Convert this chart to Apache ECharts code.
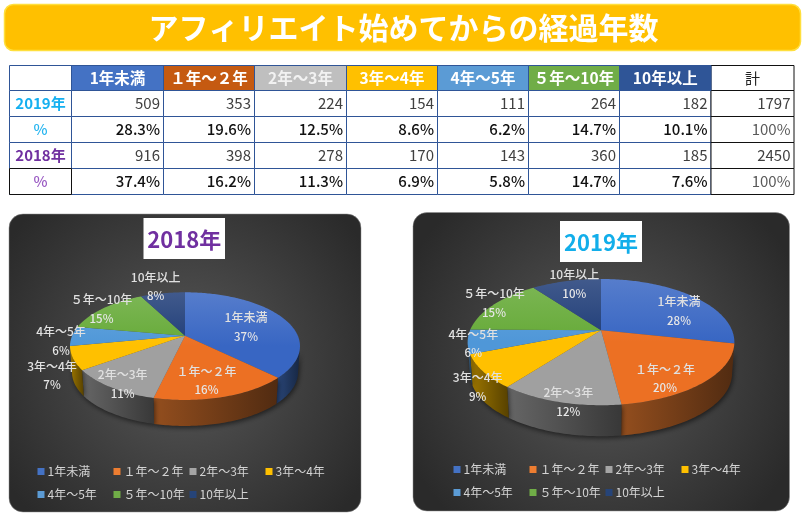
<!DOCTYPE html>
<html><head><meta charset="utf-8">
<style>html,body{margin:0;padding:0;background:#fff}#c{width:807px;height:522px}</style>
<script src="https://cdn.jsdelivr.net/npm/echarts@6/dist/echarts.min.js"></script>
</head><body><div id="c"></div>
<script>
const titleText = 'アフィリエイト始めてからの経過年数';
const categories = ['1年未満','１年～２年','2年～3年','3年～4年','4年～5年','５年～10年','10年以上'];
const tableHeaders = ['1年未満','１年～２年','2年～3年','3年～4年','4年～5年','５年～10年','10年以上'];
const values2019 = [509,353,224,154,111,264,182];
const values2018 = [916,398,278,170,143,360,185];
const total2019 = 1797;
const total2018 = 2450;
const pct2019 = ['28.3%','19.6%','12.5%','8.6%','6.2%','14.7%','10.1%'];
const pct2018 = ['37.4%','16.2%','11.3%','6.9%','5.8%','14.7%','7.6%'];
const totalHeader = '計';
const totalPct = '100%';

const FONT = '"Noto Sans CJK JP","Noto Sans",sans-serif';
const colors = ['#4472c4','#ed7d31','#a5a5a5','#ffc000','#5b9bd5','#70ad47','#264478'];
const sliceFills = ['#3866c3','#ec7023','#a0a0a0','#ffc000','#4f97d8','#66aa38','#1f3d78'];
const headFills = ['#4472c4','#c55a11','#bfbfbf','#ffc000','#5b9bd5','#70ad47','#2f5597'];

function mix(hex, target, t){
  const n=parseInt(hex.slice(1),16), a=[n>>16,(n>>8)&255,n&255];
  return 'rgb('+a.map(c=>Math.round(c+(target-c)*t)).join(',')+')';
}

/* pie layout: apex, projected radius, squash, perspective, wall height */
const pies = [
  {year:'2018', values:values2018, cx:185, cy:335.7, R:112.8, k:51.8, p:0.194, depth:26,
   labels:[[246,327],[206.5,380.5],[122.7,384],[52,375.5],[61,341],[101.5,309],[155.7,286.5]],
   panel:[9,214,352,298], box:[143.5,218,81.5,41], titleColor:'#7030a0', legendLeft:37.5, legendTop:462},
  {year:'2019', values:values2019, cx:601, cy:330.3, R:131, k:60.9, p:0.187, depth:31,
   labels:[[679,311],[665,378.5],[568.3,402],[477.7,387],[473.3,343.5],[494,303],[574.3,284]],
   panel:[413,212.5,376.5,298.5], box:[560,221,82,41], titleColor:'#12aeea', legendLeft:453.5, legendTop:460}
];

function project(pie, deg){
  const a=deg*Math.PI/180, u=Math.sin(a), v=-Math.cos(a), s=1/(1-pie.p*v);
  return {x:pie.cx+pie.R*u*s, y:pie.cy+pie.k*v*s, v};
}
function arc(pie, a0, a1){
  const pts=[]; const n=Math.max(2,Math.ceil((a1-a0)));
  for(let i=0;i<=n;i++) pts.push(project(pie,a0+(a1-a0)*i/n));
  return pts;
}

function sliceSeries(pie, idx){
  const total=pie.values.reduce((a,b)=>a+b,0);
  const start=pie.values.slice(0,idx).reduce((a,b)=>a+b,0)/total*360;
  const end=start+pie.values[idx]/total*360;
  const col=colors[idx], fill=sliceFills[idx];
  return {
    type:'custom', name:categories[idx], coordinateSystem:'none',
    itemStyle:{color:col}, silent:true, animation:false, clip:false,
    data:[pie.values[idx]],
    renderItem:function(params, api){
      const val=api.value(0);
      const rim=arc(pie,start,end);
      const children=[];
      const vis=rim.filter(q=>q.v>=pie.p);
      if(vis.length>=2){
        const top=vis.map(q=>[q.x,q.y]);
        const bot=vis.slice().reverse().map(q=>[pie.cx+(q.x-pie.cx)*0.983,q.y+pie.depth]);
        children.push({type:'polygon',z2:1,shape:{points:top.concat(bot)},style:{
          fill:{type:'linear',x:0,y:0,x2:1,y2:0,colorStops:[{offset:0,color:mix(col,0,0.38)},{offset:1,color:mix(col,0,0.66)}]},
          shadowBlur:5,shadowColor:'rgba(0,0,0,0.55)',shadowOffsetY:2,shadowOffsetX:1}});
      }
      const yTop=pie.cy-pie.k/(1+pie.p), yBot=pie.cy+pie.k/(1-pie.p);
      const pts=[[pie.cx,pie.cy]].concat(rim.map(q=>[q.x,q.y]));
      children.push({type:'polygon',z2:2,shape:{points:pts},style:{
        fill:{type:'linear',global:true,x:0,y:yTop,x2:0,y2:yBot,colorStops:[
          {offset:0,color:mix(fill,255,0.15)},{offset:0.5,color:fill},{offset:1,color:fill}]}}});
      const pos=pie.labels[idx];
      children.push({type:'text',z2:50,x:pos[0],y:pos[1],style:{
        text:'{n|'+categories[idx]+'}\n{p|'+Math.round(val/total*100)+'%}',
        align:'center',verticalAlign:'middle',
        rich:{n:{fontFamily:FONT,fontSize:12,fontWeight:500,lineHeight:19,fill:'#e0e0e0',color:'#e0e0e0'},
              p:{fontFamily:FONT,fontSize:11.5,fontWeight:500,lineHeight:19,fill:'#e6e6e6',color:'#e6e6e6'}}}});
      return {type:'group',children};
    }
  };
}

/* table */
const colX=[9.5,71.5,163.5,254.5,346.5,437.5,528.5,619.5,711,794];
const rowY=[65.5,90.5,116.5,142.5,168.5,194.5];
const g=[];
function cellRect(c0,r0,fill,stroke,z){
  g.push({type:'rect',z:z||1,shape:{x:colX[c0],y:rowY[r0],width:colX[c0+1]-colX[c0],height:rowY[r0+1]-rowY[r0]},
    style:{fill:fill||'#fff',stroke:stroke,lineWidth:1}});
}
function cellText(c0,r0,text,color,opts){
  opts=opts||{};
  const mid=(rowY[r0]+rowY[r0+1])/2;
  const right=opts.align==='right';
  g.push({type:'text',z:3,x:right?colX[c0+1]-3.5:(colX[c0]+colX[c0+1])/2,y:mid,
    style:{text:text,fill:color,align:right?'right':'center',verticalAlign:'middle',
      font:(opts.weight||'400')+' '+(opts.size||15)+'px '+FONT}});
}
const BLUE='#2f5597', BLACK='#111';
for(let c=0;c<8;c++) for(let r=0;r<5;r++) cellRect(c,r,'#fff',BLUE);
for(let r=0;r<5;r++) cellRect(8,r,'#fff',BLACK,2);
cellRect(0,4,'#fff',BLACK,2);
tableHeaders.forEach((h,i)=>{
  cellRect(i+1,0,headFills[i],BLUE,2);
  cellText(i+1,0,h,i===2?'#f2f2f2':'#ffffff',{weight:'700',size:15.5});
});
cellText(8,0,totalHeader,'#222',{size:15});
cellText(0,1,'2019年','#16b0f0',{weight:'700',size:15});
cellText(0,2,'%','#29b6f0',{weight:'500',size:15});
cellText(0,3,'2018年','#7030a0',{weight:'700',size:15});
cellText(0,4,'%','#9b5cc4',{weight:'500',size:15});
const R={align:'right'}, RP={align:'right',weight:'500'};
values2019.forEach((v,i)=>cellText(i+1,1,String(v),'#404040',R));
pct2019.forEach((v,i)=>cellText(i+1,2,v,'#111',RP));
values2018.forEach((v,i)=>cellText(i+1,3,String(v),'#404040',R));
pct2018.forEach((v,i)=>cellText(i+1,4,v,'#111',RP));
cellText(8,1,String(total2019),'#404040',R);
cellText(8,2,totalPct,'#595959',R);
cellText(8,3,String(total2018),'#404040',R);
cellText(8,4,totalPct,'#595959',R);

/* banner */
g.push({type:'rect',z:0,shape:{x:4.5,y:4.5,width:796,height:46,r:9},style:{fill:'#ffc000',stroke:'#ffdf3d',lineWidth:1.5}});

/* panels and year boxes */
pies.forEach(pie=>{
  const [x,y,w,h]=pie.panel;
  g.push({type:'rect',z:0,shape:{x,y,width:w,height:h,r:14},style:{
    fill:{type:'radial',x:0.5,y:0.5,r:0.72,colorStops:[{offset:0,color:'#585858'},{offset:1,color:'#2a2a2a'}]},
    stroke:'#8c8c8c',lineWidth:0.5}});
  const [bx,by,bw,bh]=pie.box;
  g.push({type:'rect',z:1,shape:{x:bx,y:by,width:bw,height:bh},style:{fill:'#fff'}});
  g.push({type:'text',z:3,x:bx+bw/2,y:by+bh/2+1,style:{text:pie.year+'年',fill:pie.titleColor,align:'center',verticalAlign:'middle',
    font:'700 22px '+FONT,shadowBlur:3,shadowColor:'rgba(0,0,0,0.45)',shadowOffsetY:2,shadowOffsetX:1}});
});

const series=[];
pies.forEach(pie=>pie.values.forEach((_,i)=>series.push(sliceSeries(pie,i))));

const chart=echarts.init(document.getElementById('c'),null,{renderer:'canvas'});
chart.setOption({
  animation:false,
  backgroundColor:'#fff',
  title:{text:titleText,left:'center',top:2,itemGap:0,textStyle:{color:'#fff',fontFamily:FONT,fontSize:30,fontWeight:700,lineHeight:42}},
  graphic:{elements:g},
  legend:pies.map(pie=>({
    left:pie.legendLeft,top:pie.legendTop,width:320,height:50,orient:'horizontal',
    data:categories,icon:'rect',itemWidth:7,itemHeight:7,itemGap:4,selectedMode:false,padding:0,
    textStyle:{color:'#d4d4d4',fontFamily:FONT,fontSize:12,width:62,lineHeight:19,overflow:'none',padding:[0,0,0,-2]}
  })),
  series
});
</script></body></html>
